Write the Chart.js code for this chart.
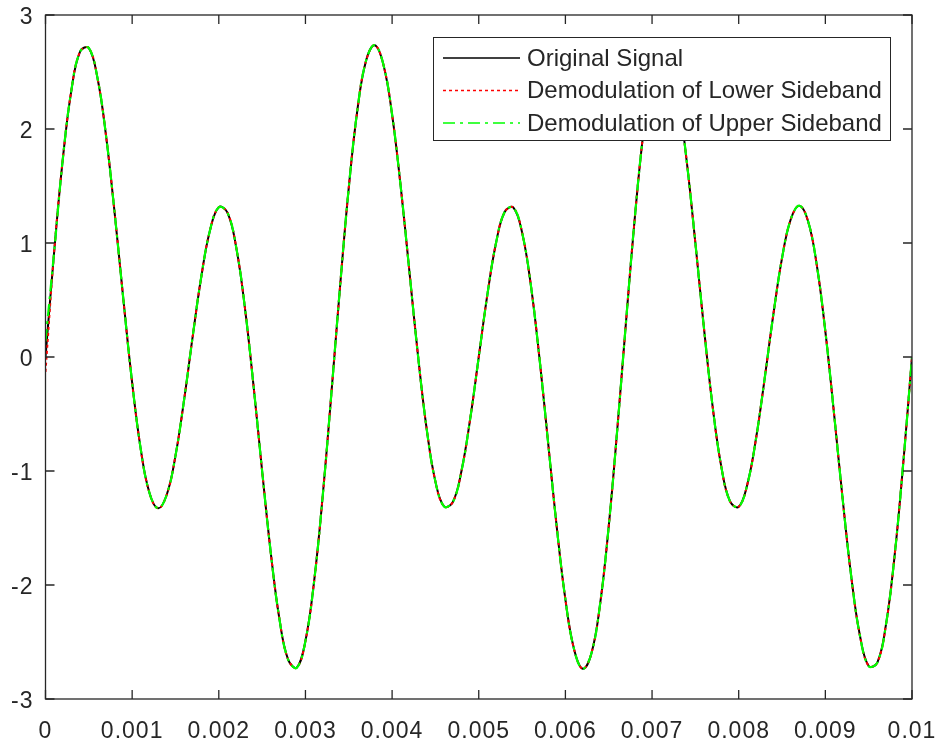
<!DOCTYPE html>
<html>
<head>
<meta charset="utf-8">
<script src="https://cdn.jsdelivr.net/npm/chart.js@4"></script>
<style>
  html,body{margin:0;padding:0;background:#fff;}
  canvas{display:block;}
</style>
</head>
<body>
<canvas id="sigChart" width="941" height="744"></canvas>
<script>
// time axis (s)
const time=[0,0.0001,0.0002,0.0003,0.0004,0.0005,0.0006,0.0007,0.0008,0.0009,
  0.001,0.0011,0.0012,0.0013,0.0014,0.0015,0.0016,0.0017,0.0018,0.0019,
  0.002,0.0021,0.0022,0.0023,0.0024,0.0025,0.0026,0.0027,0.0028,0.0029,
  0.003,0.0031,0.0032,0.0033,0.0034,0.0035,0.0036,0.0037,0.0038,0.0039,
  0.004,0.0041,0.0042,0.0043,0.0044,0.0045,0.0046,0.0047,0.0048,0.0049,
  0.005,0.0051,0.0052,0.0053,0.0054,0.0055,0.0056,0.0057,0.0058,0.0059,
  0.006,0.0061,0.0062,0.0063,0.0064,0.0065,0.0066,0.0067,0.0068,0.0069,
  0.007,0.0071,0.0072,0.0073,0.0074,0.0075,0.0076,0.0077,0.0078,0.0079,
  0.008,0.0081,0.0082,0.0083,0.0084,0.0085,0.0086,0.0087,0.0088,0.0089,
  0.009,0.0091,0.0092,0.0093,0.0094,0.0095,0.0096,0.0097,0.0098,0.0099,0.01];

const originalSignal=[0,0.923,1.738,2.346,2.681,2.711,2.447,1.933,1.248,0.494,
  -0.225,-0.812,-1.193,-1.327,-1.206,-0.867,-0.373,0.187,0.715,1.116,
  1.314,1.267,0.966,0.440,-0.246,-1.000,-1.718,-2.300,-2.654,-2.725,
  -2.490,-1.968,-1.213,-0.313,0.623,1.485,2.170,2.601,2.735,2.564,
  2.127,1.490,0.748,0.005,-0.637,-1.093,-1.311,-1.274,-1.002,-0.549,
  0,0.549,1.002,1.274,1.311,1.093,0.637,-0.005,-0.748,-1.490,
  -2.127,-2.564,-2.735,-2.601,-2.170,-1.485,-0.623,0.313,1.213,1.968,
  2.490,2.725,2.654,2.300,1.718,1.000,0.246,-0.440,-0.966,-1.267,
  -1.314,-1.116,-0.715,-0.187,0.373,0.867,1.206,1.327,1.193,0.812,
  0.225,-0.494,-1.248,-1.933,-2.447,-2.711,-2.681,-2.346,-1.738,-0.923,0];

// demodulated outputs sit on top of the original, only the first sample differs
const lowerSideband=[-0.13].concat(originalSignal.slice(1));
const upperSideband=[0.14].concat(originalSignal.slice(1));

const seriesNames=['Original Signal','Demodulation of Lower Sideband','Demodulation of Upper Sideband'];

const xTicks=[0,0.001,0.002,0.003,0.004,0.005,0.006,0.007,0.008,0.009,0.01];
const xTickLabels=['0','0.001','0.002','0.003','0.004','0.005','0.006','0.007','0.008','0.009','0.01'];
const yTicks=[-3,-2,-1,0,1,2,3];
const yTickLabels=['-3','-2','-1','0','1','2','3'];

const FONT="'Liberation Sans', Arial, sans-serif";
const AXIS='#262626';

const styles=[
  {color:'#000000',dash:[]},
  {color:'#ff0000',dash:[3,3]},
  {color:'#00ff00',dash:[12,5,3,5]}
];

function pts(arr){ return time.map((t,i)=>({x:t,y:arr[i]})); }

// box round the plot with inward ticks, like matlab
const frame={
  id:'frame',
  beforeDraw(chart){ chart.ctx.letterSpacing='1px'; },
  beforeDatasetsDraw(chart){ chart.ctx.letterSpacing='0px'; },
  afterDatasetsDraw(chart){
    const c=chart.ctx, a=chart.chartArea;
    const xs=chart.scales.x, ys=chart.scales.y;
    c.save();
    c.strokeStyle=AXIS;
    c.lineWidth=1.3;
    c.setLineDash([]);
    c.strokeRect(a.left,a.top,a.right-a.left,a.bottom-a.top);
    c.beginPath();
    xTicks.forEach(v=>{
      const p=xs.getPixelForValue(v);
      c.moveTo(p,a.bottom); c.lineTo(p,a.bottom-9);
      c.moveTo(p,a.top); c.lineTo(p,a.top+9);
    });
    yTicks.forEach(v=>{
      const p=ys.getPixelForValue(v);
      c.moveTo(a.left,p); c.lineTo(a.left+9,p);
      c.moveTo(a.right,p); c.lineTo(a.right-9,p);
    });
    c.stroke();
    c.restore();
  },
  afterDraw(chart){
    const c=chart.ctx;
    const bx=433.5, by=37.5, bw=457, bh=103;
    c.save();
    c.fillStyle='#fff';
    c.fillRect(bx,by,bw,bh);
    c.strokeStyle=AXIS;
    c.lineWidth=1;
    c.strokeRect(bx,by,bw,bh);
    c.font='24px '+FONT;
    c.textBaseline='middle';
    seriesNames.forEach((name,i)=>{
      const y=58+i*32.5;
      c.strokeStyle=styles[i].color;
      c.lineWidth=1.5;
      c.setLineDash(styles[i].dash);
      c.beginPath(); c.moveTo(443,y); c.lineTo(520,y); c.stroke();
      c.setLineDash([]);
      c.fillStyle=AXIS;
      c.fillText(name,527,y+1);
    });
    c.restore();
  }
};

const ctx=document.getElementById('sigChart').getContext('2d');
const sigChart=new Chart(ctx,{
  type:'line',
  data:{
    datasets:[
      {label:seriesNames[0],data:pts(originalSignal),borderColor:styles[0].color,borderDash:styles[0].dash,borderWidth:2,order:2},
      {label:seriesNames[1],data:pts(lowerSideband),borderColor:styles[1].color,borderDash:styles[1].dash,borderWidth:2,order:1},
      {label:seriesNames[2],data:pts(upperSideband),borderColor:styles[2].color,borderDash:styles[2].dash,borderWidth:2.2,order:0}
    ]
  },
  options:{
    responsive:false,
    animation:false,
    devicePixelRatio:1,
    layout:{padding:{top:15,right:29,left:0,bottom:0}},
    elements:{point:{radius:0},line:{tension:0.4,fill:false}},
    plugins:{legend:{display:false},tooltip:{enabled:false}},
    scales:{
      x:{
        type:'linear',min:0,max:0.01,
        afterBuildTicks:s=>{s.ticks=xTicks.map(v=>({value:v}));},
        afterFit:s=>{s.height=45;s.paddingLeft=0;s.paddingRight=0;},
        grid:{display:false,drawTicks:false},
        border:{display:false},
        ticks:{
          padding:19,color:AXIS,maxRotation:0,autoSkip:false,
          font:{family:FONT,size:23},
          callback:(v,i)=>xTickLabels[i]
        }
      },
      y:{
        type:'linear',min:-3,max:3,
        afterBuildTicks:s=>{s.ticks=yTicks.map(v=>({value:v}));},
        afterFit:s=>{s.width=45.5;s.paddingTop=0;s.paddingBottom=0;},
        grid:{display:false,drawTicks:false},
        border:{display:false},
        ticks:{
          padding:12,labelOffset:3,color:AXIS,autoSkip:false,
          font:{family:FONT,size:23},
          callback:(v,i)=>yTickLabels[i]
        }
      }
    }
  },
  plugins:[frame]
});
</script>
</body>
</html>
